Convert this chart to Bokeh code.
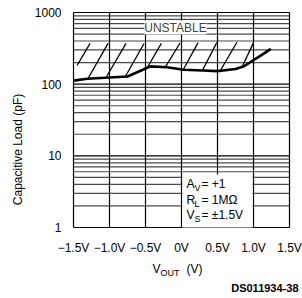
import numpy as np
from bokeh.plotting import figure
from bokeh.models import FixedTicker, Label, BoxAnnotation
from bokeh.embed import file_html
from bokeh.resources import INLINE

# ---- data ----
x_ticks = [-1.5, -1.0, -0.5, 0.0, 0.5, 1.0, 1.5]
x_tick_labels = ["\u22121.5V", "\u22121.0V", "\u22120.5V", "0V", "0.5V", "1.0V", "1.5V"]
y_ticks = [1, 10, 100, 1000]
y_tick_labels = ["1", "10", "100", "1000"]
y_minor = [2, 3, 4, 5, 6, 7, 8, 9, 20, 30, 40, 50, 60, 70, 80, 90,
           200, 300, 400, 500, 600, 700, 800, 900]

vout = [-1.5, -1.31, -1.0, -0.75, -0.49, -0.43, -0.2, 0.03, 0.3, 0.5, 0.75, 0.87, 0.96, 1.1, 1.24]
cap_load = [112, 119, 124, 128, 167, 177, 172, 159, 155, 152, 163, 178, 204, 250, 311]

hatch_x0 = [-1.45, -1.30, -1.04, -0.78, -0.48, -0.22, 0.03, 0.29, 0.54, 0.84]
hatch_y0 = [182, 119, 128, 128, 167, 176, 163, 155, 155, 172]
hatch_x1 = [-1.27, -1.02, -0.77, -0.52, -0.28, -0.02, 0.23, 0.49, 0.77, 1.00]
hatch_y1 = [370, 370, 370, 370, 370, 375, 380, 380, 385, 380]

FONT = "Liberation Sans"
W, H = 302, 298
OFF = 0  # canvas origin in screenshot pixels

# pixel geometry of the plot box: x -1.5..1.5 -> 73..289, y 1000..1 -> 12..227
def px2x(px):
    return -1.5 + (px - 73) / 72.0

def py2y(py):
    return 10 ** (3 - (py - 12) / 71.667)

X0, X1 = x_ticks[0], x_ticks[-1]
Y0, Y1 = y_ticks[0], y_ticks[-1]

p = figure(width=W, height=H, x_range=(px2x(OFF), px2x(OFF + W)),
           y_range=(py2y(OFF + H), py2y(OFF)), y_axis_type="log",
           output_backend="svg", toolbar_location=None,
           min_border=0, min_border_left=0, min_border_right=0,
           min_border_top=0, min_border_bottom=0)
p.outline_line_color = None
p.grid.visible = False

p.xaxis.ticker = FixedTicker(ticks=x_ticks)
p.xaxis.major_label_overrides = {float(t): l for t, l in zip(x_ticks, x_tick_labels)}
p.xaxis.fixed_location = Y0
p.yaxis.ticker = FixedTicker(ticks=y_ticks, minor_ticks=y_minor)
p.yaxis.major_label_overrides = {t: l for t, l in zip(y_ticks, y_tick_labels)}
p.yaxis.fixed_location = X0

for ax in (p.xaxis, p.yaxis):
    ax.axis_line_color = None
    ax.major_tick_line_color = None
    ax.minor_tick_line_color = None
    ax.major_label_text_font = FONT
    ax.major_label_text_font_size = "12px"
    ax.major_label_text_color = "black"
p.xaxis.major_label_standoff = 7
p.yaxis.major_label_standoff = 6

p.yaxis.axis_label = "Capacitive Load (pF)"
p.yaxis.axis_label_text_font = FONT
p.yaxis.axis_label_text_font_size = "12px"
p.yaxis.axis_label_text_font_style = "normal"
p.yaxis.axis_label_text_color = "black"
p.yaxis.axis_label_standoff = 7

# grid (plot box) from the tick arrays
p.segment(x0=[X0] * len(y_minor), y0=y_minor, x1=[X1] * len(y_minor), y1=y_minor,
          line_color="#4a4a4a", line_width=1.2)
p.segment(x0=[X0] * len(y_ticks), y0=y_ticks, x1=[X1] * len(y_ticks), y1=y_ticks,
          line_color="black", line_width=1.2)
p.segment(x0=x_ticks, y0=[Y0] * len(x_ticks), x1=x_ticks, y1=[Y1] * len(x_ticks),
          line_color="black", line_width=1.2)

# curve + hatching
p.line(vout, cap_load, line_color="black", line_width=2.6)
p.segment(x0=hatch_x0, y0=hatch_y0, x1=hatch_x1, y1=hatch_y1, line_color="black", line_width=1.3)

# UNSTABLE label
p.add_layout(Label(x=px2x(175), y=py2y(27), text="UNSTABLE", text_align="center",
                   text_baseline="middle", text_font=FONT, text_font_size="12px",
                   background_fill_color="white", background_fill_alpha=1.0))

# condition box
p.add_layout(BoxAnnotation(left=0.015, right=0.985, bottom=Y0, top=py2y(174),
                           fill_color="white", fill_alpha=1.0, line_color=None))

def lab(px, py, t, size="12px", align="left", style="normal"):
    p.add_layout(Label(x=px2x(px), y=py2y(py), text=t, text_align=align,
                       text_baseline="middle", text_font=FONT, text_font_size=size,
                       text_font_style=style, text_color="black"))

lab(186, 183, "A")
lab(194, 187, "V", "9px")
lab(201, 183, "= +1")
lab(186, 199, "R")
lab(194, 203, "L", "9px")
lab(201, 199, "= 1M\u03a9")
lab(186, 214, "V")
lab(194, 218, "S", "9px")
lab(201, 214, "= \u00b11.5V")

# x axis label
lab(152, 268, "V")
lab(160, 272, "OUT", "9px")
lab(186, 268, "(V)")

# figure id
lab(298, 287, "DS011934-38", "11px", "right", "bold")

open("out.html", "w").write(file_html(p, INLINE))
